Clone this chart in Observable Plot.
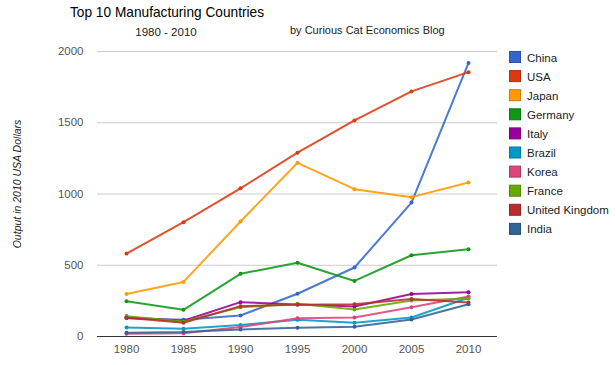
<!DOCTYPE html>
<html><head><meta charset="utf-8">
<script src="https://cdn.jsdelivr.net/npm/d3@7"></script>
<script src="https://cdn.jsdelivr.net/npm/@observablehq/plot@0.6"></script>
<style>body{margin:0;background:#fff} #chart{width:616px;height:365px}</style>
</head><body><div id="chart"></div>
<script>
const years = [1980, 1985, 1990, 1995, 2000, 2005, 2010];
const countries = ["China","USA","Japan","Germany","Italy","Brazil","Korea","France","United Kingdom","India"];
const colors = ["#3366cc","#dc3912","#ff9900","#109618","#990099","#0099c6","#dd4477","#66aa00","#b82e2e","#316395"];
const china   = [128, 117, 147, 300, 484, 940, 1920];
const usa     = [582, 802, 1040, 1290, 1516, 1720, 1855];
const japan   = [298, 383, 807, 1219, 1034, 978, 1081];
const germany = [247, 187, 440, 517, 390, 570, 612];
const italy   = [133, 110, 241, 225, 210, 298, 310];
const brazil  = [64, 55, 80, 118, 97, 133, 272];
const korea   = [19, 22, 66, 128, 134, 206, 281];
const france  = [143, 105, 205, 229, 189, 252, 266];
const uk      = [131, 96, 213, 222, 226, 264, 238];
const india   = [26, 31, 49, 61, 68, 119, 226];
const yTicks = [0, 500, 1000, 1500, 2000];
const titleText = "Top 10 Manufacturing Countries";
const subtitleText = "1980 - 2010";
const creditText = "by Curious Cat Economics Blog";
const yLabelText = "Output in 2010 USA Dollars";

const series = [china, usa, japan, germany, italy, brazil, korea, france, uk, india];
const data = countries.flatMap((c, i) => years.map((y, j) => ({country: c, year: y, value: series[i][j]})));
const font = "'Liberation Sans', Arial, sans-serif";

const plot = Plot.plot({
  width: 616, height: 365,
  marginLeft: 97, marginRight: 119, marginTop: 51, marginBottom: 29,
  style: {fontFamily: font, fontSize: "11.5px", background: "#fff", color: "#555"},
  x: {type: "linear", domain: [1980, 2010], range: [126, 468]},
  y: {domain: [0, 2000]},
  color: {domain: countries, range: colors},
  marks: [
    Plot.ruleY(yTicks.slice(1), {stroke: "#cccccc", strokeWidth: 1}),
    Plot.ruleY([0], {stroke: "#333", strokeWidth: 1}),
    Plot.axisX({ticks: years, tickFormat: d => String(d), tickSize: 0, tickPadding: 8, label: null}),
    Plot.axisY({ticks: yTicks, tickFormat: d => String(d), tickSize: 0, tickPadding: 14, label: null}),
    Plot.line(data, {x: "year", y: "value", z: "country", stroke: "country", strokeWidth: 2, strokeOpacity: 0.88}),
    Plot.dot(data, {x: "year", y: "value", fill: "country", r: 2})
  ]
});

const svg = d3.select(plot);
svg.append("text").attr("x", 70).attr("y", 17).attr("text-anchor", "start").attr("font-family", font).attr("font-size", 15)
  .attr("textLength", 194).attr("lengthAdjust", "spacingAndGlyphs")
  .attr("fill", "#000").text(titleText);
svg.append("text").attr("x", 166).attr("y", 36).attr("text-anchor", "middle").attr("font-family", font)
  .attr("font-size", 11.5).attr("fill", "#222").text(subtitleText);
svg.append("text").attr("x", 290).attr("y", 34).attr("text-anchor", "start").attr("font-family", font)
  .attr("font-size", 11).attr("fill", "#222").text(creditText);
svg.append("text").attr("transform", "translate(21,184) rotate(-90)").attr("text-anchor", "middle")
  .attr("font-family", font).attr("font-size", 10.5).attr("font-style", "italic").attr("fill", "#222").text(yLabelText);

const lg = svg.append("g").attr("text-anchor", "start");
countries.forEach((c, i) => {
  const y = 51 + i * 19.1;
  lg.append("rect").attr("x", 509.5).attr("y", y + 0.5).attr("width", 11).attr("height", 11)
    .attr("fill", colors[i]).attr("stroke", d3.color(colors[i]).darker(0.6)).attr("stroke-width", 1);
  lg.append("text").attr("x", 527).attr("y", y + 10.5).attr("text-anchor", "start").attr("font-family", font).attr("font-size", 11.5)
    .attr("fill", "#222").text(c);
});

document.getElementById("chart").appendChild(plot);
</script></body></html>
